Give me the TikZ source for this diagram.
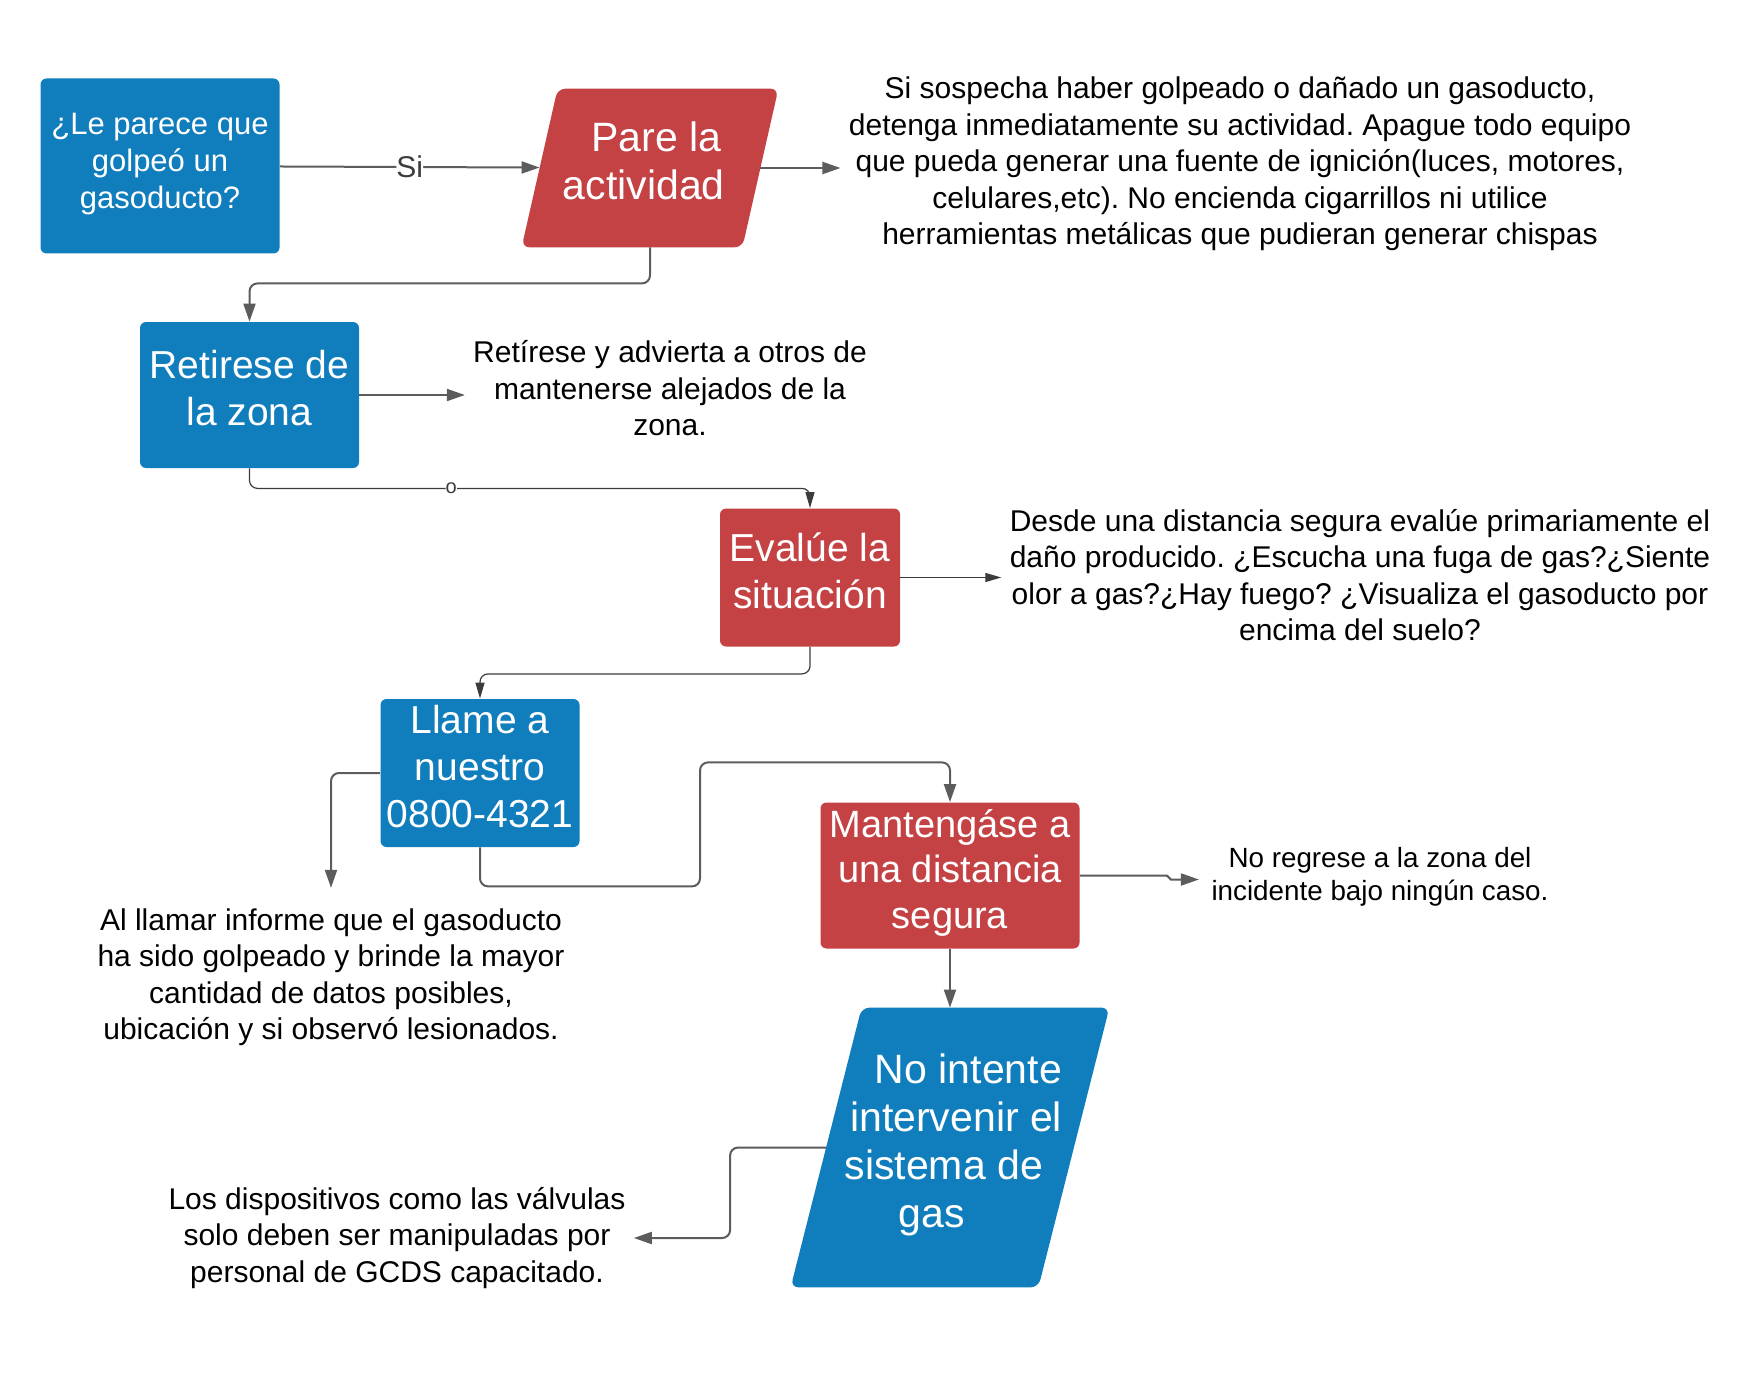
\documentclass[tikz,border=0pt]{standalone}
\usepackage{fontspec}
\setmainfont{Liberation Sans}
\usetikzlibrary{arrows.meta,backgrounds}
\definecolor{lucblue}{RGB}{16,125,188}
\definecolor{lucred}{RGB}{196,65,68}
\definecolor{lucgray}{RGB}{92,92,92}
\definecolor{lucdark}{RGB}{60,60,60}
\frenchspacing

\begin{document}
\begin{tikzpicture}[
  x=0.5pt, y=-0.5pt,
  every node/.style={inner sep=2pt},
  box/.style={rectangle, rounded corners=3pt, text=white, align=center,
              font=\fontsize{19.5}{23.5}\selectfont},
  bbox/.style={box, fill=lucblue},
  rbox/.style={box, fill=lucred},
  slant/.style={rectangle, text=white, align=center,
                font=\fontsize{20.5}{24}\selectfont},
  note/.style={align=center, inner sep=4pt, font=\fontsize{15}{18.25}\selectfont},
  con/.style={draw=lucgray, line width=1pt, rounded corners=4pt,
              -{Triangle[length=9pt,width=6pt]}},
  conthin/.style={con, draw=lucdark, line width=0.6pt,
              -{Triangle[length=8pt,width=4.5pt]}},
  lbl/.style={fill=white, text=lucdark, inner sep=0pt, font=\fontsize{15}{18}\selectfont},
]
  \useasboundingbox (0,0) rectangle (1760,1375);

  \node[bbox, minimum width=119.5pt, minimum height=87.5pt,
        font=\fontsize{15.5}{18.5}\selectfont] (golpe) at (160,166)
        {¿Le parece que\\golpeó un\\gasoducto?\strut};
  \node[slant, minimum width=110pt, minimum height=79pt] (pare) at (650,168)
        {\rule{6.2pt}{0pt}Pare la\\actividad\rule{6.2pt}{0pt}\strut};
  \node[bbox, minimum width=109.5pt, minimum height=73pt] (retiro) at (249.5,395)
        {Retirese de\\la zona\strut};
  \node[rbox, minimum width=90pt, minimum height=69pt] (evalua) at (810,577.5)
        {Evalúe la\\situación\strut};
  \node[bbox, minimum width=99.5pt, minimum height=74pt] (llame) at (480,773)
        {Llame a\\nuestro\\0800-4321\strut};
  \node[rbox, minimum width=129.5pt, minimum height=73pt,
        font=\fontsize{19}{22.7}\selectfont] (distancia) at (950,875.5)
        {Mantengáse a\\una distancia\\segura\strut};
  \node[slant, minimum width=123.5pt, minimum height=139.5pt] (nointente) at (950,1147.5)
        {\rule{18.4pt}{0pt}No intente\\\rule{6.2pt}{0pt}intervenir el\\sistema de\rule{6.2pt}{0pt}\\gas\rule{18.4pt}{0pt}\strut};

  \begin{scope}[on background layer]
    \fill[lucred, rounded corners=4pt]
      ([xshift=9pt]pare.north west) -- ([xshift=9pt]pare.north east)
      -- ([xshift=-9pt]pare.south east) -- ([xshift=-9pt]pare.south west) -- cycle;
    \fill[lucblue, rounded corners=4pt]
      ([xshift=17.75pt]nointente.north west) -- ([xshift=17.75pt]nointente.north east)
      -- ([xshift=-17.75pt]nointente.south east) -- ([xshift=-17.75pt]nointente.south west) -- cycle;
  \end{scope}

  \node[note] (n1) at (1240,164)
        {Si sospecha haber golpeado o dañado un gasoducto,\\detenga inmediatamente su actividad. Apague todo equipo\\que pueda generar una fuente de ignición(luces, motores,\\celulares,etc). No encienda cigarrillos ni utilice\\herramientas metálicas que pudieran generar chispas};
  \node[note] (n2) at (670,388.4)
        {Retírese y advierta a otros de\\mantenerse alejados de la\\zona.};
  \node[note] (n3) at (1360,575.2)
        {Desde una distancia segura evalúe primariamente el\\daño producido. ¿Escucha una fuga de gas?¿Siente\\olor a gas?¿Hay fuego? ¿Visualiza el gasoducto por\\encima del suelo?};
  \node[note] (n4) at (331,977)
        {Al llamar informe que el gasoducto\\ha sido golpeado y brinde la mayor\\cantidad de datos posibles,\\ubicación y si observó lesionados.};
  \node[note, font=\fontsize{13.9}{16.8}\selectfont] (n5) at (1380,877)
        {No regrese a la zona del\\incidente bajo ningún caso.};
  \node[note] (n6) at (397,1238)
        {Los dispositivos como las válvulas\\solo deben ser manipuladas por\\personal de GCDS capacitado.};

  \draw[con] (golpe) -- node[lbl] {Si} (pare);
  \draw[con] (pare.east) -- (pare.east -| n1.west);
  \draw[con] (pare.south) -- ++(0,36) -| (retiro.north);
  \draw[con] (retiro.east) -- (retiro.east -| n2.west);
  \draw[conthin] (retiro.south) -- ++(0,20) -| node[pos=0.18, lbl, font=\fontsize{10}{10}\selectfont] {o} (evalua.north);
  \draw[conthin] (evalua.east) -- (evalua.east -| n3.west);
  \draw[conthin] (evalua.south) -- ++(0,27) -| (llame.north);
  \draw[con] (llame.west) -| ([yshift=6pt]n4.north);
  \draw[con] (llame.south) -- ++(0,39) -- ++(220,0) -- ++(0,-124) -| (distancia.north);
  \draw[con, sharp corners] (distancia.east) -- ++(87,0) -- ++(4,4) -- ++(28,0);
  \draw[con] (distancia.south) -- (nointente.north);
  \draw[con] (nointente.west) -- ++(-96,0) |- (n6.east);
\end{tikzpicture}
\end{document}
